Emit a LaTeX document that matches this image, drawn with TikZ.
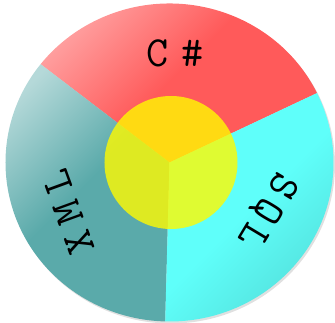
\documentclass[tikz,border=0pt]{standalone}
\usetikzlibrary{calc}
\definecolor{cred}{HTML}{FF5A5A}
\definecolor{ccyan}{HTML}{5FFFFA}
\definecolor{cteal}{HTML}{5AAAAA}
\definecolor{cyellow}{RGB}{255,250,0}
\tikzset{
  every picture/.style={x=1pt, y=1pt},
  rim/.style={x radius=164pt, y radius=159pt},
  hub/.style={fill=cyellow, fill opacity=0.8},
  lbl/.style={font=\ttfamily\fontsize{43}{43}\selectfont, inner sep=0pt, text=black},
}
\begin{document}
\begin{tikzpicture}
  \useasboundingbox (-169.5,-160.5) rectangle (165.5,162.5);
  % soft shadow under the disc
  \fill[black!12] (1.5,-2) ellipse [rim];
  % the three sectors
  \shade[top color=cred!55!white, bottom color=cred, middle color=cred, shading angle=45]
    (0,0) -- (25.9:164pt and 159pt) arc[start angle=25.9, end angle=141.8, rim] -- cycle;
  \shade[top color=cteal!45!white, bottom color=cteal, middle color=cteal, shading angle=45]
    (0,0) -- (141.8:164pt and 159pt) arc[start angle=141.8, end angle=268.5, rim] -- cycle;
  \shade[top color=ccyan, bottom color=ccyan!88!black, middle color=ccyan, shading angle=45]
    (0,0) -- (268.5:164pt and 159pt) arc[start angle=268.5, end angle=385.9, rim] -- cycle;
  % centre disc
  \fill[hub] (1.5,0) circle [radius=66.5];
  % labels
  \node[lbl] (csharp) at (5.5,109) {C\hspace{0.31em}\#};
  \node[lbl, rotate=110] (xml) at (-101.5,-50) {X\hspace{0.24em}M\hspace{0.24em}L};
  \node[lbl, rotate=239] (sql) at (97.5,-48) {S\hspace{0.17em}Q\hspace{0.17em}L};
\end{tikzpicture}
\end{document}
